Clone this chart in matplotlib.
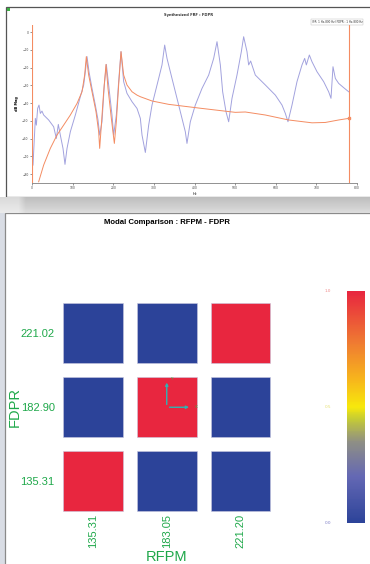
import numpy as np
import matplotlib.pyplot as plt
from matplotlib.patches import Rectangle
from matplotlib.colors import LinearSegmentedColormap, Normalize
from matplotlib.cm import ScalarMappable

# --- data: synthesized FRF (top) ---
hz_blue = [2.5, 8.2, 10.7, 13.9, 17.2, 20.5, 24.6, 28.7, 41.0, 53.3, 59.9, 64.8, 69.7, 76.3, 81.2,
           86.2, 94.4, 106.7, 119.0, 127.2, 131.3, 135.4, 140.3, 147.7, 155.9, 162.5, 166.6,
           172.3, 178.0, 183.0, 188.7, 196.9, 201.0, 207.6, 213.3, 219.1, 225.6, 233.8, 246.2,
           258.5, 266.7, 270.8, 279.0, 287.2, 295.4, 303.6, 311.8, 320.0, 326.6, 332.3, 344.6,
           356.9, 369.2, 377.4, 381.5, 389.7, 402.0, 418.5, 434.9, 447.2, 455.4, 463.6, 469.3,
           477.5, 484.1, 492.3, 504.6, 515.3, 521.0, 529.2, 533.3, 538.2, 549.7, 574.4, 599.0,
           615.4, 623.6, 630.1, 640.0, 652.3, 664.6, 671.2, 675.3, 682.7, 689.2, 701.5, 717.9,
           730.2, 736.0, 740.9, 746.7, 754.9, 767.2, 779.5]
db_blue = [-74.9, -48.6, -52.4, -43.0, -41.1, -45.8, -44.5, -46.7, -49.5, -53.3, -59.9, -52.0, -58.0,
           -65.5, -74.5, -65.5, -56.1, -46.7, -36.4, -29.8, -22.3, -13.8, -22.3, -31.7, -41.1,
           -49.5, -58.0, -50.5, -29.8, -18.2, -29.8, -46.7, -58.0, -46.7, -27.9, -11.0, -27.9,
           -34.5, -39.2, -43.0, -48.6, -58.0, -67.8, -52.4, -41.1, -33.6, -26.1, -18.5, -7.3,
           -14.8, -26.1, -37.3, -48.6, -56.1, -62.7, -50.5, -41.1, -31.7, -24.2, -14.8, -5.4,
           -18.5, -33.6, -44.8, -50.5, -37.3, -24.2, -11.0, -2.6, -11.0, -18.5, -16.3, -24.2,
           -29.8, -35.5, -41.1, -45.8, -50.5, -41.1, -27.9, -18.5, -14.8, -18.5, -12.9, -16.7,
           -22.3, -27.9, -33.6, -37.3, -19.5, -26.1, -28.9, -31.3, -33.6]
hz_orange = [16.4, 28.7, 45.1, 61.5, 77.9, 94.4, 110.8, 123.1, 129.6, 133.7, 139.5, 147.7, 157.5,
             164.1, 166.6, 170.7, 176.4, 182.2, 187.1, 195.3, 202.7, 207.6, 213.3, 219.1, 225.6,
             233.8, 246.2, 258.5, 266.7, 295.4, 336.4, 418.5, 500.5, 525.1, 574.4, 631.8, 689.2,
             722.0, 754.9, 779.5]
db_orange = [-84.3, -74.9, -65.5, -58.0, -52.4, -46.7, -40.2, -33.6, -24.2, -13.8, -24.2, -33.6,
             -44.8, -56.1, -65.5, -52.4, -33.6, -18.2, -31.7, -48.6, -62.7, -50.5, -29.8, -11.0,
             -24.2, -29.8, -33.6, -35.5, -36.4, -38.8, -40.7, -43.0, -45.2, -45.0, -46.7, -49.5,
             -51.1, -50.9, -49.5, -48.6]
cursors = [0, 779.5]

# --- data: modal comparison (bottom) ---
rfpm = ["135.31", "183.05", "221.20"]
fdpr = ["135.31", "182.90", "221.02"]
mac = [[1.0, 0.0, 0.0],   # FDPR 135.31
       [0.0, 1.0, 0.0],   # FDPR 182.90
       [0.0, 0.0, 1.0]]   # FDPR 221.02

W, H = 370, 564
fig = plt.figure(figsize=(W / 100, H / 100), dpi=100)
fig.patch.set_facecolor('white')
green = '#1fa84a'
sans = ['Liberation Sans', 'DejaVu Sans']


def fr(x, y, w, h):
    # pixel box (top-left origin) -> figure fraction
    return (x / W, 1 - (y + h) / H, w / W, h / H)


def box(x, y, w, h, **kw):
    x0, y0, ww, hh = fr(x, y, w, h)
    fig.add_artist(Rectangle((x0, y0), ww, hh, transform=fig.transFigure, zorder=-10, **kw))


# screenshot framing
sh = fig.add_axes(fr(0, 197, W, 16))
grad = np.linspace(0.74, 0.86, 16)[:, None] * np.ones((1, 50))
grad[:, :3] = np.linspace(0.85, 0.92, 16)[:, None]
sh.imshow(grad, cmap='gray', vmin=0, vmax=1, aspect='auto', interpolation='bilinear')
sh.axis('off')
box(0, 213, 5, 351, facecolor='#d9dde5', edgecolor='none')
box(6, 7, 370, 190, facecolor='white', edgecolor='#555555', linewidth=0.9)
box(5, 213, 370, 360, facecolor='white', edgecolor='#8a8a8a', linewidth=0.9)
box(7, 8, 3, 3, facecolor='#3cb043', edgecolor='none')

# --- top FRF panel ---
ax1 = fig.add_axes(fr(32, 25, 325, 158))
ax1.patch.set_alpha(0)
ax1.plot(hz_blue, db_blue, color='#a2a2de', lw=0.7)
ax1.plot(hz_orange, db_orange, color='#f48c62', lw=0.7)
for c in cursors:
    ax1.axvline(c, color='#f48c62', lw=0.8)
ax1.plot([hz_orange[-1]], [db_orange[-1]], 's', color='#f48c62', ms=1.5)
ax1.set_xlim(0, 800)
ax1.set_ylim(-85, 4)
ax1.set_xticks(np.arange(0, 801, 100))
ax1.set_yticks(np.arange(-80, 1, 10))
ax1.tick_params(labelsize=2.2, length=1.5, width=0.4, pad=1, colors='#444444')
for s in ['top', 'right', 'left']:
    ax1.spines[s].set_visible(False)
ax1.spines['bottom'].set_linewidth(0.5)
ax1.spines['bottom'].set_color('#666666')
ax1.set_xlabel('Hz', fontsize=2.5, labelpad=1)
ax1.set_ylabel('dB Mag', fontsize=2.5, labelpad=2, fontweight='bold')
fig.text(188 / W, 1 - 15 / H, 'Synthesized FRF : FDPR', fontsize=2.6, ha='center', va='center',
         fontweight='bold', color='#333333')
fig.text(337 / W, 1 - 22 / H, '(FR: 1 Hz-800 Hz) FDPR : 1 Hz-800 Hz', fontsize=2.0, ha='center',
         va='center', color='#333333',
         bbox=dict(boxstyle='square,pad=0.3', fc='white', ec='#bbbbbb', lw=0.3))

# --- bottom modal comparison panel ---
cmap = LinearSegmentedColormap.from_list('mac', [
    (0.0, '#2c4399'), (0.2, '#6468b4'), (0.35, '#8f8f84'), (0.45, '#c6cc34'),
    (0.5, '#f7e80c'), (0.62, '#f7b51c'), (0.78, '#ef7a32'), (1.0, '#e8263f')])
norm = Normalize(0, 1)

ax2 = fig.add_axes(fr(56, 296, 221.5, 222.5))
ax2.patch.set_alpha(0)
size = 0.81
for i, row in enumerate(mac):
    for j, v in enumerate(row):
        ax2.add_patch(Rectangle((j - size / 2, i - size / 2), size, size,
                                facecolor=cmap(norm(v)), edgecolor='#c8c8e0', linewidth=0.4))
ax2.set_xlim(-0.5, 2.5)
ax2.set_ylim(-0.5, 2.5)
ax2.set_xticks(range(3))
ax2.set_xticklabels(rfpm, rotation=90, va='top')
ax2.set_yticks(range(3))
ax2.set_yticklabels(fdpr)
ax2.tick_params(length=0, labelsize=8, colors=green, pad=-3)
ax2.tick_params(axis='y', pad=1)
for s in ax2.spines.values():
    s.set_visible(False)
for lab in ax2.get_xticklabels() + ax2.get_yticklabels():
    lab.set_family(sans)
fig.text(167 / W, 1 - 557 / H, 'RFPM', fontsize=10.5, color=green, ha='center', va='center',
         family=sans)
fig.text(15 / W, 1 - 407 / H, 'FDPR', fontsize=10.5, color=green, ha='center', va='center',
         rotation=90, family=sans)

# little coordinate triad inside the centre cell
cx, cy = 1, 1
ax2.annotate('', xy=(cx, cy + 0.37), xytext=(cx, cy),
             arrowprops=dict(arrowstyle='-|>', color='#2fb3b3', lw=1.0, mutation_scale=4))
ax2.annotate('', xy=(cx + 0.34, cy), xytext=(cx, cy),
             arrowprops=dict(arrowstyle='-|>', color='#2fb3b3', lw=1.0, mutation_scale=4))
ax2.text(cx + 0.05, cy + 0.38, 'Y', fontsize=3, color='#3cb043', va='center')
ax2.text(cx + 0.38, cy, 'X', fontsize=3, color='#3cb043', va='center')

fig.text(167 / W, 1 - 223 / H, 'Modal Comparison : RFPM - FDPR', fontsize=5.6, ha='center',
         va='center', fontweight='bold', family=sans)

cax = fig.add_axes(fr(347, 291, 18, 232))
cb = fig.colorbar(ScalarMappable(norm=norm, cmap=cmap), cax=cax)
cb.outline.set_visible(False)
cb.set_ticks([])
for val, col in [(1.0, '#f08a8a'), (0.5, '#e6e070'), (0.0, '#7a7ac4')]:
    fig.text(328 / W, 1 - (523 - val * 232) / H, f'{val:.1f}', fontsize=3, color=col,
             ha='center', va='center')

fig.savefig('out.png', dpi=100)
